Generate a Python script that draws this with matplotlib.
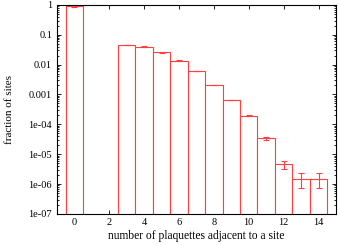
import numpy as np
import matplotlib
matplotlib.use("Agg")
import matplotlib.pyplot as plt
from matplotlib.ticker import FixedLocator, FixedFormatter, LogLocator, NullFormatter

# histogram of plaquettes adjacent to a site
counts = [0, 3, 4, 5, 6, 7, 8, 9, 10, 11, 12, 13, 14]
frac = [0.9, 0.045, 0.040, 0.026, 0.0134, 0.006, 0.0021, 6.5e-4, 1.95e-4, 3.4e-5, 4.7e-6, 1.48e-6, 1.48e-6]
err_lo = [0.03, 0.001, 0.001, 0.0007, 0.0004, 0.0001, 0.00005, 2e-5, 8e-6, 4e-6, 1.4e-6, 7.6e-7, 7.6e-7]
err_hi = [0.03, 0.001, 0.001, 0.0007, 0.0004, 0.0001, 0.00005, 2e-5, 8e-6, 4e-6, 1.3e-6, 8.2e-7, 8.2e-7]

ytick_vals = [1, 0.1, 0.01, 0.001, 1e-4, 1e-5, 1e-6, 1e-7]
ytick_labels = ["1", "0.1", "0.01", "0.001", "1e-04", "1e-05", "1e-06", "1e-07"]

plt.rcParams['font.family'] = ['Liberation Serif', 'DejaVu Serif']
plt.rcParams['font.size'] = 7.5

fig = plt.figure(figsize=(3.39, 2.45), dpi=100)
ax = fig.add_axes([0.168, 0.127, 0.823, 0.853])

red = '#ff4040'
ax.bar(counts, frac, width=1.0, bottom=0, color='white', edgecolor=red, linewidth=0.8, zorder=2)
ax.errorbar(counts, frac, yerr=[err_lo, err_hi], fmt='none', ecolor=red,
            elinewidth=0.8, capsize=2, capthick=0.8, zorder=3)

ax.set_yscale('log')
ax.set_ylim(1e-7, 1)
ax.set_xlim(-1, 15)
ax.set_xticks([0, 2, 4, 6, 8, 10, 12, 14])
ax.yaxis.set_major_locator(FixedLocator(ytick_vals))
ax.yaxis.set_major_formatter(FixedFormatter(ytick_labels))
ax.yaxis.set_minor_locator(LogLocator(base=10, subs=np.arange(2, 10), numticks=20))
ax.yaxis.set_minor_formatter(NullFormatter())

ax.tick_params(which='both', direction='in', top=True, right=True, width=0.6)
ax.tick_params(which='major', length=3)
ax.tick_params(which='minor', length=1.5)
ax.tick_params(axis='x', pad=3)
for s in ax.spines.values():
    s.set_linewidth(0.8)

ax.set_xlabel("number of plaquettes adjacent to a site", fontsize=8.3, labelpad=2)
ax.set_ylabel("fraction of sites", fontsize=8.0)
ax.yaxis.set_label_coords(-0.155, 0.5)

fig.savefig("out.png", dpi=100)
